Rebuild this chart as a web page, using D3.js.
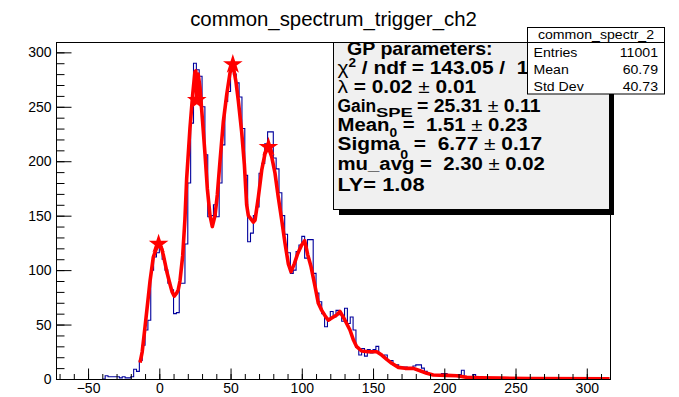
<!DOCTYPE html>
<html>
<head>
<meta charset="utf-8">
<script src="https://cdn.jsdelivr.net/npm/d3@7"></script>
<style>
  html, body { margin: 0; padding: 0; background: #ffffff; }
  svg { display: block; font-family: "Liberation Sans", Arial, Helvetica, sans-serif; }
  text { white-space: pre; }
</style>
</head>
<body>
<svg id="chart" width="679" height="397"></svg>
<script>
// ---- histogram: common_spectr_2 (bin width 2, first bin at -40) ----
const histStart = -40;
const binWidth = 2;
const counts = [
  0, 3, 2, 2, 2, 2, 1, 2, 1, 1,            // -40 .. -22
  2, 9, 7, 17, 31, 45, 54, 100, 112, 116,  // -20 .. -2
  121, 110, 100, 88, 82, 60, 61, 88, 88, 124, // 0 .. 18
  180, 235, 290, 284, 278, 250, 206, 149, 150, 160, // 20 .. 38
  149, 180, 215, 255, 264, 284, 280, 272, 259, 230, // 40 .. 58
  187, 126, 134, 150, 158, 189, 198, 216, 227, 227, // 60 .. 78
  203, 193, 171, 150, 133, 116, 97, 100, 117, 123,  // 80 .. 98
  131, 111, 128, 128, 97, 79, 71, 60, 48, 54,       // 100 .. 118
  62, 57, 63, 59, 53, 65, 51, 57, 45, 29,           // 120 .. 138
  22, 28, 21, 27, 24, 27, 30, 23, 21, 22,           // 140 .. 158
  17, 17, 13, 13, 10, 11, 11, 10, 10, 12,           // 160 .. 178
  13, 13, 10, 7, 5, 4, 4, 4, 3, 5,                  // 180 .. 198
  5, 4, 3, 3, 4, 4, 8, 2, 1, 2,                     // 200 .. 218
  4, 1, 1, 0, 1, 0                                  // 220 .. 230
];

// ---- fitted GP curve (x, y) ----
const fitX = [-13.5, -12, -10, -8, -6.5, -4.2, -2, 0, 1.5, 2.8, 5.2, 7.5, 9, 10.5, 12.2, 13.3,
  14.5, 16.4, 18, 19.2, 21.5, 23.4, 25, 25.6, 26.3, 27.3, 28.6, 30.4, 32.1, 33.7, 35.6, 37.2,
  39.1, 40.7, 42.6, 44.9, 47.3, 49.6, 51.5, 53.8, 55.5, 57.8, 59.7, 61.3, 62.5, 66, 67.2,
  69.5, 71.9, 74.2, 76.5, 78.9, 81.2, 83.5, 85.9, 88.2, 90.5, 92.4, 94.8, 97.1, 99.9, 102,
  104.2, 106.5, 109.3, 111.6, 114, 116.8, 118.6, 121, 124.5, 126.8, 130.3, 133.8, 136.2,
  138.5, 142, 146.7, 152.6, 156.1, 159.6, 163.1, 167.8, 172.5, 178.3, 183, 187.7, 192.3,
  201.7, 208.7, 215.8, 225, 240, 260, 316];
const fitY = [15, 25, 48, 72, 90, 112, 120, 124, 120, 114, 99, 87, 80, 76, 79, 82,
  90, 113, 147, 184, 230, 261, 282, 283, 258, 280, 267, 236, 206, 175, 150, 140,
  150, 169, 200, 236, 261, 281, 290, 273, 255, 227, 197, 160, 150, 144, 146,
  167, 192, 207, 213, 204, 189, 167, 146, 125, 106, 98.5, 106, 115, 123, 127,
  114, 103, 85, 69.5, 63, 57, 54, 56, 58.8, 62, 54, 45, 36,
  29.7, 25.7, 25, 25, 22, 18, 14.4, 10.7, 9.8, 9.8, 7.6, 5.2, 3.7,
  3.3, 3, 1.5, 1.2, 0.8, 0.4, 0.2];

// ---- fitted peak positions ----
const peakX = [-0.5, 26.3, 51.6, 76.6];
const peakY = [124, 256, 289, 213];

// ---- axes ----
const xMajorTicks = [-50, 0, 50, 100, 150, 200, 250, 300];
const xMinorTicks = d3.range(-70, 311, 10);
const yMajorTicks = [0, 50, 100, 150, 200, 250, 300];
const yMinorTicks = d3.range(0, 301, 10);

// ---- text ----
const titleText = "common_spectrum_trigger_ch2";
const statsTitle = "common_spectr_2";
const statsLabels = ["Entries", "Mean", "Std Dev"];
const statsValues = ["11001", "60.79", "40.73"];

const svg = d3.select("#chart");
const frame = { left: 56, right: 610, top: 42, bottom: 379 };

const x = d3.scaleLinear().domain([-72.5, 316.3]).range([frame.left, frame.right]);
const y = d3.scaleLinear().domain([0, 309.5]).range([frame.bottom, frame.top]);

// Text whose glyphs are stretched horizontally by sx
function wideText(parent, tx, ty, sx) {
  return parent.append("text")
    .attr("transform", `translate(${tx},${ty}) scale(${sx},1)`)
    .attr("x", 0).attr("y", 0);
}

// title
svg.append("text")
  .attr("x", 333.5).attr("y", 26)
  .attr("text-anchor", "middle")
  .attr("font-size", 20.4)
  .attr("fill", "#000")
  .text(titleText);

// clip for plotted data
svg.append("defs").append("clipPath").attr("id", "plotClip")
  .append("rect")
  .attr("x", frame.left).attr("y", frame.top)
  .attr("width", frame.right - frame.left).attr("height", frame.bottom - frame.top);

const plot = svg.append("g").attr("clip-path", "url(#plotClip)");

// histogram outline
const histPts = [[histStart, 0]];
counts.forEach((c, i) => histPts.push([histStart + i * binWidth, c]));
histPts.push([histStart + counts.length * binWidth, counts[counts.length - 1]]);
histPts.push([histStart + counts.length * binWidth, 0]);

plot.append("path")
  .datum(histPts)
  .attr("fill", "none")
  .attr("stroke", "#00009c")
  .attr("stroke-width", 1.1)
  .attr("d", d3.line().x(d => x(d[0])).y(d => y(d[1])).curve(d3.curveStepAfter));

// fitted curve
plot.append("path")
  .datum(fitX.map((v, i) => [v, fitY[i]]))
  .attr("fill", "none")
  .attr("stroke", "#ff0000")
  .attr("stroke-width", 3.6)
  .attr("stroke-linejoin", "round")
  .attr("d", d3.line().x(d => x(d[0])).y(d => y(d[1])));

// peak markers
plot.selectAll("path.peak")
  .data(peakX.map((v, i) => [v, peakY[i]]))
  .join("path")
  .attr("class", "peak")
  .attr("transform", d => `translate(${x(d[0])},${y(d[1])})`)
  .attr("d", d3.symbol(d3.symbolStar, 120))
  .attr("fill", "#ff0000");

// frame
svg.append("rect")
  .attr("x", frame.left + 0.5).attr("y", frame.top + 0.5)
  .attr("width", frame.right - frame.left).attr("height", frame.bottom - frame.top)
  .attr("fill", "none").attr("stroke", "#000").attr("stroke-width", 1);

// x axis (ticks pointing into the frame)
const xAxisG = svg.append("g").attr("transform", `translate(0,${frame.bottom + 0.5})`);
xAxisG.call(d3.axisBottom(x).tickValues(xMinorTicks).tickSize(-5.5).tickSizeOuter(0).tickFormat(""));
xAxisG.append("g").call(d3.axisBottom(x).tickValues(xMajorTicks).tickSize(-11).tickSizeOuter(0).tickPadding(4));
xAxisG.selectAll(".domain").remove();
xAxisG.selectAll("text").attr("font-size", 14).attr("font-family", null).attr("fill", "#000");
xAxisG.selectAll("line").attr("stroke", "#000");

// y axis
const yAxisG = svg.append("g").attr("transform", `translate(${frame.left + 0.5},0)`);
yAxisG.call(d3.axisLeft(y).tickValues(yMinorTicks).tickSize(-8).tickSizeOuter(0).tickFormat(""));
yAxisG.append("g").call(d3.axisLeft(y).tickValues(yMajorTicks).tickSize(-15).tickSizeOuter(0).tickPadding(5));
yAxisG.selectAll(".domain").remove();
yAxisG.selectAll("text").attr("font-size", 14).attr("font-family", null).attr("fill", "#000");
yAxisG.selectAll("line").attr("stroke", "#000");

// fit parameter box with shadow
const gp = svg.append("g");
gp.append("rect").attr("x", 339).attr("y", 47).attr("width", 275).attr("height", 168).attr("fill", "#000");
gp.append("rect").attr("x", 333.5).attr("y", 42.5).attr("width", 276).attr("height", 167)
  .attr("fill", "#f0f0f0").attr("stroke", "#000").attr("stroke-width", 1);

const gpText = gp.append("g").attr("font-size", 18.5).attr("font-weight", "bold").attr("fill", "#000");
const lx = 337.5;

wideText(gpText, 347, 54.5, 1.06).text("GP parameters:");

let t = wideText(gpText, lx, 74, 1.13);
t.append("tspan").attr("font-weight", "normal").text("χ");
t.append("tspan").attr("font-size", 12).attr("dy", -7).text("2");
t.append("tspan").attr("dy", 7).text(" / ndf = 143.05 /  11");

t = wideText(gpText, lx, 93, 1.13);
t.append("tspan").attr("font-weight", "normal").text("λ");
t.append("tspan").text(" = 0.02 ");
t.append("tspan").attr("font-weight", "normal").text("±");
t.append("tspan").text(" 0.01");

// Gain line: base word, wide subscript, then value
wideText(gpText, lx, 111.5, 0.94).text("Gain");
wideText(gpText, 376, 116.5, 1.42).attr("font-size", 13).text("SPE");
t = wideText(gpText, 417, 111.5, 1.05);
t.append("tspan").text("= 25.31 ");
t.append("tspan").attr("font-weight", "normal").text("±");
t.append("tspan").text(" 0.11");

t = wideText(gpText, lx, 130.5, 1.10);
t.append("tspan").text("Mean");
t.append("tspan").attr("font-size", 12.5).attr("dy", 6).text("0");
t.append("tspan").attr("dy", -6).text(" =  1.51 ");
t.append("tspan").attr("font-weight", "normal").text("±");
t.append("tspan").text(" 0.23");

t = wideText(gpText, lx, 150, 1.13);
t.append("tspan").text("Sigma");
t.append("tspan").attr("font-size", 12.5).attr("dy", 9).text("0");
t.append("tspan").attr("dy", -9).text(" =  6.77 ");
t.append("tspan").attr("font-weight", "normal").text("±");
t.append("tspan").text(" 0.17");

t = wideText(gpText, lx, 170, 1.10);
t.append("tspan").text("mu_avg =  2.30 ");
t.append("tspan").attr("font-weight", "normal").text("±");
t.append("tspan").text(" 0.02");

wideText(gpText, lx, 190.5, 1.18).text("LY= 1.08");

// statistics box
const st = svg.append("g").attr("font-size", 12.5).attr("fill", "#000");
st.append("rect").attr("x", 527.5).attr("y", 27.5).attr("width", 137).attr("height", 66.5)
  .attr("fill", "#fff").attr("stroke", "#000").attr("stroke-width", 1);
st.append("line").attr("x1", 527.5).attr("x2", 664.5).attr("y1", 42.5).attr("y2", 42.5)
  .attr("stroke", "#000").attr("stroke-width", 1);
const ssx = 1.13;
wideText(st, 596, 39, ssx).attr("text-anchor", "middle").text(statsTitle);
const rowY = [57, 74, 90.5];
statsLabels.forEach((lab, i) => {
  wideText(st, 533.5, rowY[i], ssx).text(lab);
  wideText(st, 658, rowY[i], ssx).attr("text-anchor", "end").text(statsValues[i]);
});
</script>
</body>
</html>
